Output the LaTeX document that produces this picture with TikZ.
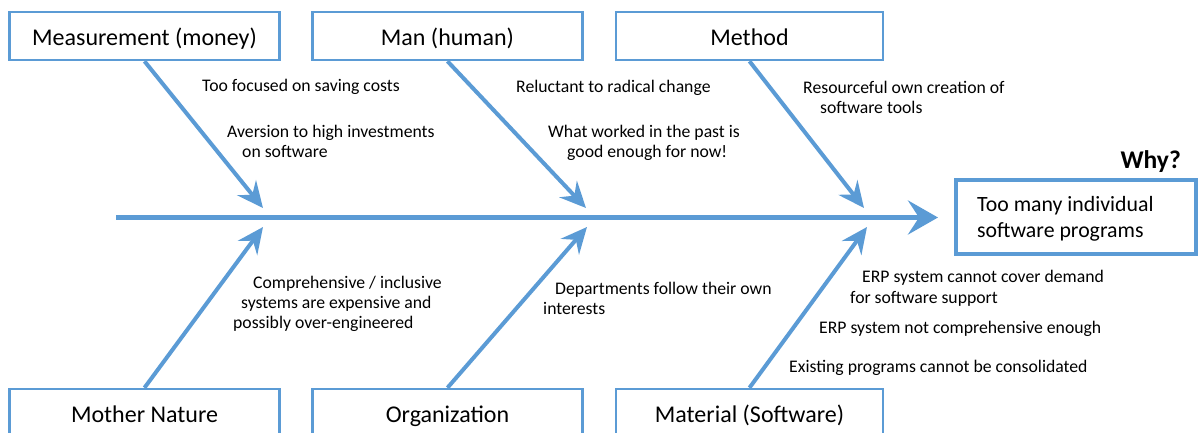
\documentclass[tikz,border=0pt]{standalone}
\usepackage{fontspec}
\setmainfont{Carlito}
\usetikzlibrary{arrows.meta}
\definecolor{fb}{HTML}{5B9BD5}
\tikzset{
  catbox/.style={draw=fb, line width=2.5pt, minimum width=270pt, minimum height=48pt, inner sep=0pt, text height=18pt, text depth=0pt, font=\fontsize{24}{28}\selectfont},
  bone/.style={draw=fb, line width=4pt, -{Stealth[length=26pt, width=24pt, inset=9pt]}},
  spine/.style={draw=fb, line width=5pt, -{Stealth[length=30pt, width=34pt, inset=11pt]}},
  cause/.style={anchor=base west, inner sep=0pt, font=\fontsize{17.7}{21}\selectfont},
  effect/.style={draw=fb, line width=4.5pt, minimum width=240pt, minimum height=74pt, inner sep=0pt},
  efftext/.style={anchor=base west, inner sep=0pt, font=\fontsize{21.8}{26}\selectfont},
}
\begin{document}
\begin{tikzpicture}[x=1pt,y=-1pt]
\useasboundingbox (0,0) rectangle (1200,432);
% category boxes
\node[catbox] (meas) at (144.5,36) {Measurement (money)};
\node[catbox] (man) at (447.5,36) {Man (human)};
\node[catbox, minimum width=267pt] (meth) at (749.5,36) {Method};
\node[catbox] (nat) at (144.5,413) {Mother Nature};
\node[catbox] (org) at (447.5,413) {Organization};
\node[catbox, minimum width=267pt] (mat) at (749.5,413) {Material (Software)};
% effect
\node[effect] (eff) at (1076,217) {};
\node[efftext] (eff1) at (977,211) {Too many individual};
\node[efftext] (eff2) at (977,237) {software programs};
\node[anchor=base east, inner sep=0pt, font=\bfseries\fontsize{25.5}{30}\selectfont] (why) at (1181,168) {Why?};
% spine
\coordinate (s0) at (116,217.5);
\coordinate (s1) at (938,217.5);
\draw[spine] (s0) -- (s1);
% bones
\coordinate (t1) at (263,208);
\coordinate (t2) at (586,208);
\coordinate (t3) at (864,208);
\coordinate (b1) at (263,227);
\coordinate (b2) at (587,227);
\coordinate (b3) at (867,227);
\draw[bone] (meas.south) -- (t1);
\draw[bone] (man.south) -- (t2);
\draw[bone] (meth.south) -- (t3);
\draw[bone] (nat.north) -- (b1);
\draw[bone] (org.north) -- (b2);
\draw[bone] (mat.north) -- (b3);
% causes
\node[cause] (c1) at (202,91) {Too focused on saving costs};
\node[cause] (c2a) at (227,137) {Aversion to high investments};
\node[cause] (c2b) at (242,157) {on software};
\node[cause] (c3) at (516,92) {Reluctant to radical change};
\node[cause] (c4a) at (548,137) {What worked in the past is};
\node[cause] (c4b) at (567,157) {good enough for now!};
\node[cause] (c5a) at (803,93) {Resourceful own creation of};
\node[cause] (c5b) at (820,113) {software tools};
\node[cause] (c6a) at (253,288) {Comprehensive / inclusive};
\node[cause] (c6b) at (241,308) {systems are expensive and};
\node[cause] (c6c) at (233,328) {possibly over-engineered};
\node[cause] (c7a) at (555,294) {Departments follow their own};
\node[cause] (c7b) at (543,314) {interests};
\node[cause] (c8a) at (862,282) {ERP system cannot cover demand};
\node[cause] (c8b) at (850,303) {for software support};
\node[cause] (c9) at (819,333) {ERP system not comprehensive enough};
\node[cause] (c10) at (789,372) {Existing programs cannot be consolidated};
\end{tikzpicture}
\end{document}
